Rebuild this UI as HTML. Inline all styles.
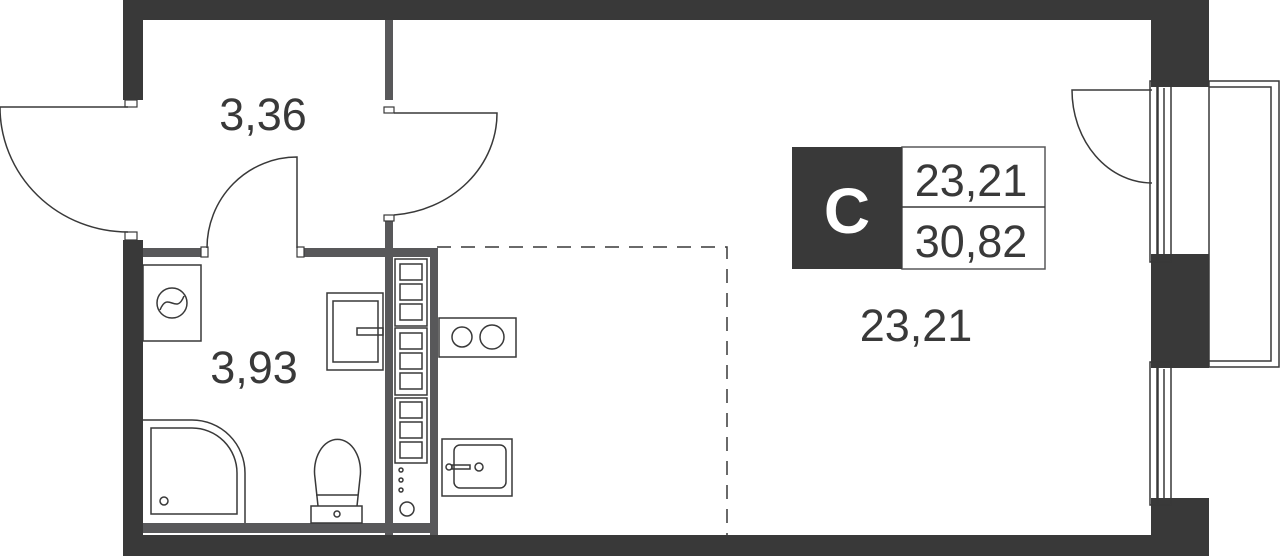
<!DOCTYPE html>
<html><head><meta charset="utf-8"><style>
html,body{margin:0;padding:0;background:#fff;width:1280px;height:556px;overflow:hidden}
svg{display:block}
text{font-family:"Liberation Sans",Arial,sans-serif}
</style></head><body>
<svg width="1280" height="556" viewBox="0 0 1280 556" xmlns="http://www.w3.org/2000/svg">
<g fill="#393939">
<rect x="123" y="0" width="1086" height="20"/>
<rect x="123" y="0" width="20" height="100"/>
<rect x="123" y="240" width="20" height="316"/>
<rect x="123" y="535" width="1086" height="21"/>
<rect x="1151" y="0" width="58" height="87"/>
<rect x="1151" y="254" width="58" height="114"/>
<rect x="1151" y="498" width="58" height="58"/>
</g>
<g fill="#58585a">
<rect x="385" y="20" width="8" height="80"/>
<rect x="385" y="220" width="8" height="315"/>
<rect x="143" y="248" width="60" height="9"/>
<rect x="300" y="248" width="137" height="9"/>
<rect x="143" y="523" width="295" height="10"/>
<rect x="430" y="248" width="8" height="287"/>
</g>
<g fill="#fff" stroke="#393939" stroke-width="1.2">
<rect x="125" y="100" width="12" height="7"/>
<rect x="125" y="232" width="12" height="8"/>
<rect x="384" y="107" width="10" height="6"/>
<rect x="384" y="215" width="10" height="6"/>
<rect x="201" y="247" width="7" height="10"/>
<rect x="297" y="247" width="7" height="10"/>
</g>
<g fill="none" stroke="#393939" stroke-width="1.5">
<path d="M0 107 H128 M0 107 A128 125 0 0 0 128 232"/>
<path d="M394 113 H497 A112 102 0 0 1 394 215"/>
<path d="M297 248 V157 A90 91 0 0 0 207 248"/>
<path d="M1152 90 H1072 A80 93 0 0 0 1152 183"/>
<path d="M437 247 H727 V535" stroke-dasharray="14 10"/>
<rect x="1150" y="81" width="7" height="181"/>
<rect x="1158" y="81" width="13" height="181"/>
<line x1="1164" y1="88" x2="1164" y2="255"/>
<rect x="1150" y="362" width="7" height="143"/>
<rect x="1158" y="362" width="13" height="143"/>
<line x1="1164" y1="369" x2="1164" y2="498"/>
<rect x="1209" y="81" width="70" height="286"/>
<path d="M1209 87 H1271 V361 H1209"/>
<rect x="143" y="265" width="58" height="76"/>
<circle cx="172" cy="303" r="15"/>
<path d="M160 310 C168 290 176 316 184 296"/>
<rect x="327" y="293" width="56" height="77"/>
<rect x="333" y="301" width="45" height="61"/>
<rect x="357" y="328" width="26" height="7"/>
<rect x="395" y="259" width="32" height="67"/>
<rect x="395" y="328" width="32" height="67"/>
<rect x="395" y="398" width="32" height="65"/>
<rect x="400" y="264" width="22" height="16"/><rect x="400" y="284" width="22" height="16"/><rect x="400" y="304" width="22" height="16"/>
<rect x="400" y="333" width="22" height="16"/><rect x="400" y="353" width="22" height="16"/><rect x="400" y="373" width="22" height="16"/>
<rect x="400" y="402" width="22" height="16"/><rect x="400" y="422" width="22" height="16"/><rect x="400" y="442" width="22" height="16"/>
<circle cx="401" cy="470" r="2"/><circle cx="401" cy="480" r="2"/><circle cx="401" cy="490" r="2"/>
<circle cx="407" cy="509" r="7"/>
<path d="M143 420 H192 A53 53 0 0 1 245 473 V523"/>
<path d="M151 428 H192 A45 45 0 0 1 237 473 V514 H151 Z"/>
<circle cx="164" cy="501" r="4"/>
<rect x="311" y="506" width="51" height="17"/>
<path d="M318 506 L315 478 A23 32 0 1 1 360 478 L357 506"/>
<line x1="316" y1="495" x2="358" y2="495"/>
<circle cx="337" cy="514" r="3"/>
<rect x="439" y="318" width="77" height="39"/>
<circle cx="462" cy="337" r="10"/><circle cx="492" cy="337" r="12"/>
<rect x="442" y="439" width="70" height="57"/>
<rect x="454" y="445" width="52" height="43" rx="6"/>
<circle cx="449" cy="467" r="3"/><rect x="452" y="465" width="18" height="4"/>
<circle cx="479" cy="467" r="4"/>
<rect x="902" y="147" width="143" height="122" stroke="#58585a"/>
<line x1="902" y1="207" x2="1045" y2="207"/>
</g>
<rect x="792" y="147" width="110" height="122" fill="#393939"/>
<text x="847" y="233" font-size="64" font-weight="bold" fill="#fff" text-anchor="middle">C</text>
<g fill="#393939" text-anchor="middle">
<text x="971" y="196" font-size="45">23,21</text>
<text x="971" y="257" font-size="45">30,82</text>
<text x="263" y="130" font-size="45">3,36</text>
<text x="254" y="383" font-size="45">3,93</text>
<text x="916" y="341" font-size="45">23,21</text>
</g>
</svg>
</body></html>
